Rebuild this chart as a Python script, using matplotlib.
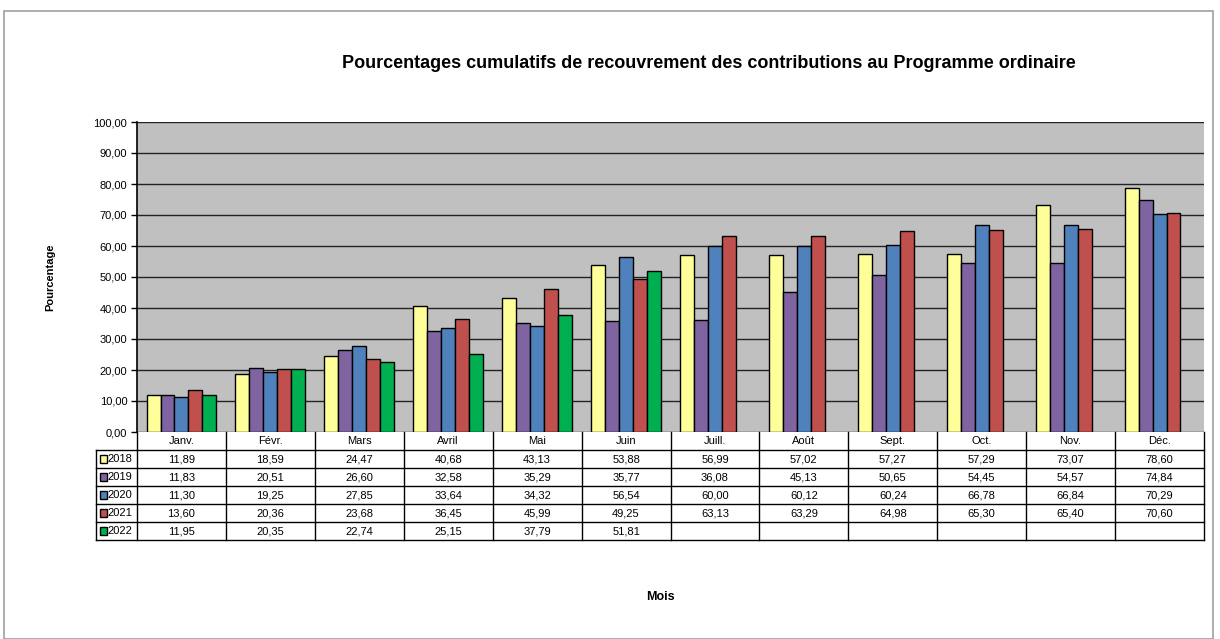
import matplotlib
matplotlib.use("Agg")
import matplotlib.pyplot as plt
import numpy as np
from matplotlib.patches import Rectangle
from matplotlib.lines import Line2D
import matplotlib.transforms as mtransforms

plt.rcParams['font.family'] = ['Liberation Sans', 'DejaVu Sans']

months = ["Janv.", "Févr.", "Mars", "Avril", "Mai", "Juin", "Juill.", "Août",
          "Sept.", "Oct.", "Nov.", "Déc."]
years = ["2018", "2019", "2020", "2021", "2022"]
v2018 = [11.89, 18.59, 24.47, 40.68, 43.13, 53.88, 56.99, 57.02, 57.27, 57.29, 73.07, 78.60]
v2019 = [11.83, 20.51, 26.60, 32.58, 35.29, 35.77, 36.08, 45.13, 50.65, 54.45, 54.57, 74.84]
v2020 = [11.30, 19.25, 27.85, 33.64, 34.32, 56.54, 60.00, 60.12, 60.24, 66.78, 66.84, 70.29]
v2021 = [13.60, 20.36, 23.68, 36.45, 45.99, 49.25, 63.13, 63.29, 64.98, 65.30, 65.40, 70.60]
v2022 = [11.95, 20.35, 22.74, 25.15, 37.79, 51.81, None, None, None, None, None, None]
series = [v2018, v2019, v2020, v2021, v2022]
colors = ["#FFFF99", "#8064A2", "#4F81BD", "#C0504D", "#00B050"]
yticks = [0, 10, 20, 30, 40, 50, 60, 70, 80, 90, 100]

W, H = 1220, 639
fig = plt.figure(figsize=(W / 100, H / 100), dpi=100)

# outer frame
fig.patches.append(Rectangle((4 / W, 0), (1213 - 4) / W, 1 - 11 / H, transform=fig.transFigure,
                             fill=False, edgecolor="#A0A0A0", lw=1.2))

ax_l, ax_r, ax_t, ax_b = 137, 1204, 122, 432
ax = fig.add_axes([ax_l / W, 1 - ax_b / H, (ax_r - ax_l) / W, (ax_b - ax_t) / H])
ax.set_facecolor("#C0C0C0")
ax.set_xlim(0, len(months))
ax.set_ylim(0, 100)
ax.set_yticks(yticks)
ax.set_yticklabels([f"{t:.2f}".replace(".", ",") for t in yticks], fontsize=8)
ax.set_xticks([])
ax.tick_params(axis="y", length=4, width=1, color="black", pad=3)
for t in yticks:
    ax.axhline(t, color="#222222", lw=1, zorder=1)
for s in ["top", "right", "bottom"]:
    ax.spines[s].set_visible(False)
ax.spines["left"].set_linewidth(1.2)

bw = 0.157
x = np.arange(len(months))
start = 0.5 - 2.5 * bw
for i, (vals, c) in enumerate(zip(series, colors)):
    v = np.array([np.nan if a is None else a for a in vals], dtype=float)
    ax.bar(x + start + i * bw + bw / 2, v, width=bw, color=c, edgecolor="black",
           lw=1, zorder=3)

# data table
row_h = 18 / (ax_b - ax_t)  # axes fraction per row
trans = mtransforms.blended_transform_factory(ax.transData, ax.transAxes)
n_rows = len(years)
leg_left = (96 - ax_l) / (ax_r - ax_l) * len(months)  # in data x
line_kw = dict(color="black", lw=1, clip_on=False)
# header row
ax.add_line(Line2D([0, len(months)], [-row_h, -row_h], transform=trans, **line_kw))
for j in range(len(months) + 1):
    ax.add_line(Line2D([j, j], [0, -row_h * (n_rows + 1)], transform=trans, **line_kw))
for j, m in enumerate(months):
    ax.text(j + 0.5, -row_h * 0.5, m, transform=trans, ha="center", va="center", fontsize=8)
# data rows
for r in range(n_rows):
    yb = -row_h * (r + 2)
    ax.add_line(Line2D([leg_left, len(months)], [yb, yb], transform=trans, **line_kw))
ax.add_line(Line2D([leg_left, 0], [-row_h, -row_h], transform=trans, **line_kw))
ax.add_line(Line2D([leg_left, leg_left], [-row_h, -row_h * (n_rows + 1)], transform=trans, **line_kw))
for r, (yr, vals, c) in enumerate(zip(years, series, colors)):
    yc = -row_h * (r + 1.5)
    ax.add_artist(Rectangle((leg_left + 0.05, yc - row_h * 0.22), 0.075, row_h * 0.44,
                            transform=trans, facecolor=c, edgecolor="black", lw=1, clip_on=False))
    ax.text(leg_left + 0.13, yc, yr, transform=trans, ha="left", va="center", fontsize=8)
    for j, v in enumerate(vals):
        if v is not None:
            ax.text(j + 0.5, yc, f"{v:.2f}".replace(".", ","), transform=trans,
                    ha="center", va="center", fontsize=8)

fig.text(709 / W, 1 - 64 / H, "Pourcentages cumulatifs de recouvrement des contributions au Programme ordinaire",
         ha="center", va="center", fontsize=13, fontweight="bold")
fig.text(50 / W, 1 - 277 / H, "Pourcentage", rotation=90, ha="center", va="center",
         fontsize=8, fontweight="bold")
fig.text(660 / W, 1 - 597 / H, "Mois", ha="center", va="center", fontsize=9, fontweight="bold")

fig.savefig("out.png", dpi=100)
